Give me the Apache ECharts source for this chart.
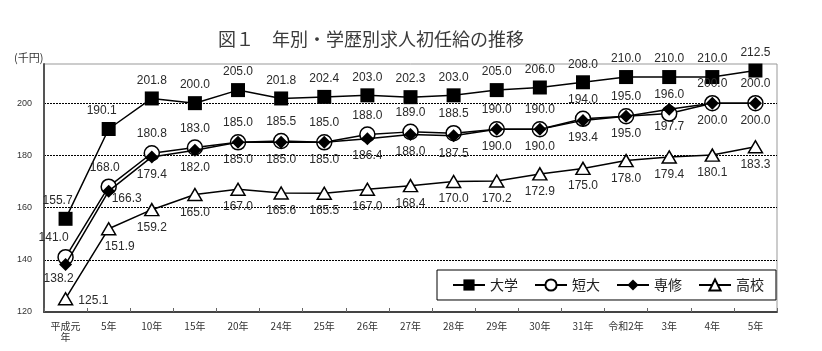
<!DOCTYPE html>
<html>
<head>
<meta charset="utf-8">
<script src="https://cdn.jsdelivr.net/npm/echarts@6/dist/echarts.min.js"></script>
<style>
html,body{margin:0;padding:0;background:#fff;}
#chart{width:822px;height:351px;}
</style>
</head>
<body>
<div id="chart"></div>
<script>
// ---- data ----
const categories = ['平成元年','5年','10年','15年','20年','24年','25年','26年','27年','28年','29年','30年','31年','令和2年','3年','4年','5年'];
const seriesNames = ['大学','短大','専修','高校'];
const daigaku = [155.7,190.1,201.8,200.0,205.0,201.8,202.4,203.0,202.3,203.0,205.0,206.0,208.0,210.0,210.0,210.0,212.5];
const tandai  = [141.0,168.0,180.8,183.0,185.0,185.5,185.0,188.0,189.0,188.5,190.0,190.0,194.0,195.0,196.0,200.0,200.0];
const senshu  = [138.2,166.3,179.4,182.0,185.0,185.0,185.0,186.4,188.0,187.5,190.0,190.0,193.4,195.0,197.7,200.0,200.0];
const koukou  = [125.1,151.9,159.2,165.0,167.0,165.6,165.5,167.0,168.4,170.0,170.2,172.9,175.0,178.0,179.4,180.1,183.3];
const yTicks = [120,140,160,180,200];
const yUnit = '(千円)';
const titleText = '図１　年別・学歴別求人初任給の推移';

// ---- label placement (style) ----
const labelFont = {fontSize:12, fontFamily:'Liberation Sans, Arial, sans-serif', color:'#2a2a2a'};
const overrides = [
  {0:{position:'top',offset:[-8,0]}, 1:{position:'top',offset:[-7,0]}},
  {0:{position:'top',offset:[-12,0]}, 1:{position:'top',offset:[-4,0]}},
  {0:{position:'bottom',offset:[-7,-3]}, 1:{position:'bottom',offset:[18,-10]}},
  {0:{position:'right',offset:[0,2]}, 1:{position:'bottom',offset:[11,0]}}
];
const defaultPos = ['top','top','bottom','bottom'];

function build(vals, idx){
  return vals.map((v,i)=> overrides[idx][i] ? {value:v, label:overrides[idx][i]} : v);
}

const styles = [
  {symbol:'rect', symbolSize:14, itemStyle:{color:'#000', borderColor:'#000', borderWidth:0}},
  {symbol:'circle', symbolSize:15, itemStyle:{color:'#fff', borderColor:'#000', borderWidth:1.5}},
  {symbol:'diamond', symbolSize:13, itemStyle:{color:'#000', borderColor:'#000', borderWidth:0}},
  {symbol:'triangle', symbolSize:[14,12], itemStyle:{color:'#fff', borderColor:'#000', borderWidth:1.5}}
];
const allVals = [daigaku, tandai, senshu, koukou];

const series = allVals.map((vals, idx)=> Object.assign({
  name: seriesNames[idx],
  type: 'line',
  data: build(vals, idx),
  lineStyle: {color:'#000', width:1.5},
  label: Object.assign({show:true, position:defaultPos[idx], distance:5, formatter:(p)=>Number(p.value).toFixed(1)}, labelFont),
  emphasis: {disabled:true},
  z: 2+idx,
  animation:false
}, styles[idx]));

const chart = echarts.init(document.getElementById('chart'), null, {renderer:'canvas'});
chart.setOption({
  animation:false,
  backgroundColor:'#fff',
  title:{
    text:titleText, left:213, top:25,
    textStyle:{fontSize:18, fontWeight:'normal', color:'#3a3a3a', fontFamily:'Noto Sans CJK JP'}
  },
  graphic:[{
    type:'text', left:14, top:52,
    style:{text:yUnit, fontSize:11, fill:'#333', fontFamily:'Noto Sans CJK JP'}
  }],
  legend:{
    data:seriesNames,
    left:437, top:270,
    orient:'horizontal',
    itemWidth:32, itemHeight:14, itemGap:16,
    padding:[8,12,8,15],
    borderColor:'#000', borderWidth:1, backgroundColor:'#fff',
    textStyle:{fontSize:14, color:'#222', fontFamily:'Noto Sans CJK JP'},
    lineStyle:{width:2}
  },
  grid:{left:44, right:45, top:64, bottom:39, show:true, borderColor:'#999', borderWidth:1, backgroundColor:'transparent'},
  xAxis:{
    type:'category', data:categories, boundaryGap:true,
    axisLine:{show:true, lineStyle:{color:'#444', width:2}},
    axisTick:{show:true, inside:true, length:4, lineStyle:{color:'#666'}},
    axisLabel:{interval:0, margin:9, fontSize:10, color:'#333', fontFamily:'Noto Sans CJK JP', lineHeight:11,
      formatter:(v)=> v==='平成元年' ? '平成元\n年' : v},
    splitLine:{show:false}
  },
  yAxis:{
    type:'value', min:yTicks[0], max:215, interval:20,
    axisLine:{show:true, lineStyle:{color:'#555', width:2}},
    axisTick:{show:false},
    axisLabel:{fontSize:9, color:'#333', margin:12, showMaxLabel:false, fontFamily:'Liberation Sans, Arial, sans-serif',
      formatter:(v)=> yTicks.indexOf(v)>=0 ? String(v) : ''},
    splitLine:{show:true, showMinLine:false, showMaxLine:false, lineStyle:{color:'#000', width:1, type:[2,1]}}
  },
  series:series
});
</script>
</body>
</html>
